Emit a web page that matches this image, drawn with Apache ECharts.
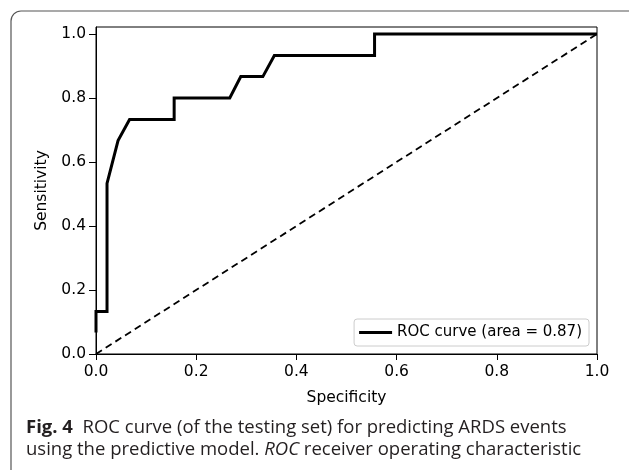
<!DOCTYPE html>
<html>
<head>
<meta charset="utf-8">
<script src="https://cdn.jsdelivr.net/npm/echarts@6/dist/echarts.min.js"></script>
<style>
  html, body { margin: 0; padding: 0; background: #fff; }
  #chart { width: 629px; height: 470px; }
</style>
</head>
<body>
<div id="chart"></div>
<script>
// ROC 曲线的点 (1 - specificity 在 x 上, sensitivity 在 y 上)
const fprValues = [0, 0, 0.022, 0.022, 0.044, 0.067, 0.156, 0.156, 0.267, 0.289, 0.333, 0.356, 0.556, 0.556, 1.0]
const tprValues = [0.067, 0.133, 0.133, 0.533, 0.667, 0.733, 0.733, 0.8, 0.8, 0.867, 0.867, 0.933, 0.933, 1.0, 1.0]
const chanceX = [0, 1]
const chanceY = [0, 1]
const tickValues = [0, 0.2, 0.4, 0.6, 0.8, 1.0]
const rocLabel = 'ROC curve (area = 0.87)'

const axisFont = { fontFamily: 'DejaVu Sans', fontSize: 15.5, color: '#000' }
const captionFont = '18.5px "Open Sans"'

const chart = echarts.init(document.getElementById('chart'), null, { renderer: 'canvas' })

chart.setOption({
  animation: false,
  grid: {
    left: 96,
    top: 27,
    width: 501,
    height: 327,
    show: true,
    borderColor: '#000',
    borderWidth: 1
  },
  legend: {
    data: [rocLabel],
    right: 40,
    top: 319,
    icon: 'rect',
    itemWidth: 33,
    itemHeight: 3,
    itemGap: 10,
    padding: [6, 7, 6, 5],
    backgroundColor: '#fff',
    borderColor: '#cccccc',
    borderWidth: 1,
    borderRadius: 3,
    textStyle: { fontFamily: 'DejaVu Sans', fontSize: 15, color: '#000' }
  },
  xAxis: {
    type: 'value',
    min: 0,
    max: 1,
    interval: 0.2,
    name: 'Specificity',
    nameLocation: 'middle',
    nameGap: 36,
    nameTextStyle: axisFont,
    axisLine: { show: true, onZero: false, lineStyle: { color: '#000', width: 1 } },
    axisTick: { show: true, length: 6, lineStyle: { color: '#000' } },
    axisLabel: { ...axisFont, margin: 10, formatter: v => v.toFixed(1) },
    splitLine: { show: false }
  },
  yAxis: {
    type: 'value',
    min: 0,
    max: 1.022,
    name: 'Sensitivity',
    nameLocation: 'middle',
    nameGap: 46,
    nameTextStyle: axisFont,
    axisLine: { show: true, onZero: false, lineStyle: { color: '#000', width: 1 } },
    axisTick: { show: true, length: 7, customValues: tickValues, lineStyle: { color: '#000' } },
    axisLabel: { ...axisFont, margin: 10, customValues: tickValues, formatter: v => v.toFixed(1) },
    splitLine: { show: false }
  },
  series: [
    {
      name: rocLabel,
      type: 'line',
      data: fprValues.map((x, i) => [x, tprValues[i]]),
      symbol: 'none',
      lineStyle: { color: '#000', width: 3, join: 'miter' },
      itemStyle: { color: '#000' },
      z: 3
    },
    {
      name: 'chance',
      type: 'line',
      data: chanceX.map((x, i) => [x, chanceY[i]]),
      symbol: 'none',
      lineStyle: { color: '#000', width: 1.8, type: [7, 4.5] },
      z: 2
    }
  ],
  graphic: [
    {
      type: 'rect',
      shape: { x: 11, y: 11, width: 640, height: 480, r: 10 },
      style: { fill: 'none', stroke: '#555', lineWidth: 1.2 },
      silent: true,
      z: -1
    },
    {
      type: 'text',
      left: 26,
      top: 418,
      style: {
        text: '{b|Fig. 4}  ROC curve (of the testing set) for predicting ARDS events',
        font: captionFont,
        fill: '#231f20',
        rich: {
          b: { font: 'bold ' + captionFont, fill: '#231f20' }
        }
      }
    },
    {
      type: 'text',
      left: 26,
      top: 440,
      style: {
        text: 'using the predictive model. {i|ROC} receiver operating characteristic',
        font: captionFont,
        fill: '#231f20',
        rich: {
          i: { font: 'italic ' + captionFont, fill: '#231f20' }
        }
      }
    }
  ]
})
</script>
</body>
</html>
